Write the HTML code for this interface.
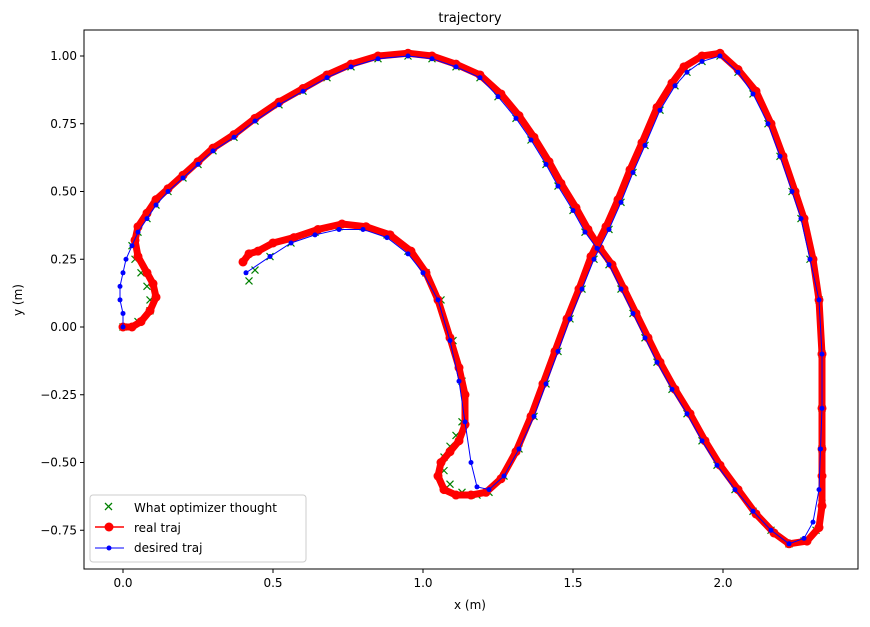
<!DOCTYPE html>
<html><head><meta charset="utf-8"><style>
body{margin:0;background:#fff;font-family:"Liberation Sans","DejaVu Sans",sans-serif}
svg text{font-family:"DejaVu Sans","Liberation Sans",sans-serif;fill:#000}
</style></head><body>
<svg id="chart" width="870" height="622" viewBox="0 0 870 622" xmlns="http://www.w3.org/2000/svg">
<rect width="870" height="622" fill="#fff"/>
<text x="470" y="22" text-anchor="middle" font-size="13">trajectory</text>
<g id="marks"></g>
<rect x="84" y="30" width="774" height="539" fill="none" stroke="#000" stroke-width="1"/>
<g id="axes"></g>
<text x="470" y="609" text-anchor="middle" font-size="12">x (m)</text>
<text x="22" y="300" text-anchor="middle" font-size="12" transform="rotate(-90 22 300)">y (m)</text>
<g>
<rect x="90" y="495" width="216" height="67" rx="3" fill="#fff" fill-opacity="0.85" stroke="#ccc"/>
<g>
<path d="M105,503 l7,7 M112,503 l-7,7" stroke="green" stroke-width="1.3"/>
<text x="134" y="512" font-size="12">What optimizer thought</text></g>
<g>
<line x1="95" y1="527" x2="124" y2="527" stroke="red" stroke-width="1.5"/><circle cx="109" cy="527" r="4.5" fill="red"/>
<text x="134" y="532" font-size="12">real traj</text></g>
<g>
<line x1="95" y1="548" x2="124" y2="548" stroke="blue" stroke-width="1"/><circle cx="109" cy="548" r="2.5" fill="blue"/>
<text x="134" y="552" font-size="12">desired traj</text></g>
</g>
</svg>
<script>
const desiredX=[0,0,-0.01,-0.01,0,0.01,0.03,0.05,0.08,0.11,0.15,0.2,0.25,0.3,0.37,0.44,0.52,0.6,0.68,0.76,0.85,0.95,
1.03,1.11,1.19,1.25,1.31,1.36,1.41,1.45,1.5,1.54,1.58,1.62,1.66,1.7,1.74,1.78,1.83,1.88,1.93,1.98,2.04,2.1,2.16,2.22,2.27,2.3,2.32,2.325,2.33,2.33,
2.32,2.29,2.26,2.23,2.19,2.15,2.1,2.05,1.99,1.93,1.88,1.84,1.79,1.74,1.7,1.66,1.62,1.57,1.53,1.49,1.45,1.41,1.37,1.32,1.27,1.22,1.18,1.16,1.14,1.12,1.09,1.05,1.0,0.95,0.88,0.8,0.72,0.64,0.56,0.49,0.41];
const desiredY=[0,0.05,0.1,0.15,0.2,0.25,0.3,0.35,0.4,0.45,0.5,0.55,0.6,0.65,0.7,0.76,0.82,0.87,0.92,0.96,0.99,1.0,
0.99,0.96,0.92,0.85,0.77,0.69,0.6,0.52,0.43,0.35,0.29,0.23,0.14,0.05,-0.04,-0.13,-0.23,-0.32,-0.42,-0.51,-0.6,-0.68,-0.75,-0.8,-0.78,-0.72,-0.6,-0.45,-0.3,-0.1,
0.1,0.25,0.4,0.5,0.63,0.75,0.86,0.94,1.0,0.98,0.94,0.89,0.8,0.67,0.57,0.46,0.36,0.25,0.14,0.03,-0.09,-0.21,-0.33,-0.45,-0.55,-0.6,-0.59,-0.5,-0.35,-0.2,-0.05,0.1,0.2,0.27,0.33,0.36,0.36,0.34,0.31,0.26,0.2];
const realX=[0,0.03,0.06,0.09,0.11,0.1,0.08,0.05,0.04,0.05,0.08,0.11,0.15,0.2,0.25,0.3,0.37,0.44,0.52,0.6,0.68,0.76,0.85,0.95,
1.03,1.11,1.19,1.26,1.32,1.37,1.42,1.46,1.51,1.55,1.59,1.63,1.67,1.71,1.75,1.79,1.84,1.89,1.94,1.99,2.05,2.11,2.17,2.22,2.28,2.32,2.33,2.33,2.33,2.33,2.33,
2.32,2.3,2.27,2.24,2.2,2.16,2.11,2.05,1.99,1.93,1.87,1.83,1.78,1.73,1.69,1.65,1.61,1.56,1.52,1.48,1.44,1.4,1.36,1.31,1.26,1.21,1.16,1.11,1.07,1.05,1.06,1.09,1.12,1.14,1.14,1.12,1.09,1.05,1.01,0.96,0.89,0.81,0.73,0.65,0.57,0.5,0.45,0.42,0.4];
const realY=[0,0,0.02,0.06,0.11,0.16,0.2,0.26,0.32,0.37,0.42,0.47,0.51,0.56,0.61,0.66,0.71,0.77,0.83,0.88,0.93,0.97,1.0,1.01,
1.0,0.97,0.93,0.86,0.78,0.7,0.61,0.53,0.44,0.36,0.29,0.23,0.14,0.05,-0.04,-0.13,-0.23,-0.32,-0.42,-0.51,-0.6,-0.69,-0.76,-0.8,-0.79,-0.74,-0.66,-0.55,-0.45,-0.3,-0.1,
0.1,0.25,0.4,0.5,0.63,0.75,0.87,0.95,1.01,1.0,0.96,0.9,0.81,0.68,0.58,0.47,0.37,0.26,0.14,0.03,-0.09,-0.21,-0.33,-0.46,-0.56,-0.61,-0.62,-0.62,-0.6,-0.55,-0.5,-0.46,-0.42,-0.36,-0.25,-0.15,-0.04,0.1,0.2,0.28,0.34,0.37,0.38,0.36,0.33,0.31,0.28,0.27,0.24];
const optX=[0,0.05,0.09,0.09,0.08,0.06,0.04,0.03,0.05,0.08,0.11,0.15,0.2,0.25,0.3,0.37,0.44,0.52,0.6,0.68,0.76,0.85,0.95,
1.03,1.11,1.19,1.25,1.31,1.36,1.41,1.45,1.5,1.54,1.58,1.62,1.66,1.7,1.74,1.78,1.83,1.88,1.93,1.98,2.04,2.1,2.16,2.22,2.27,2.31,2.33,2.33,2.33,2.33,
2.32,2.29,2.26,2.23,2.19,2.15,2.1,2.05,1.99,1.93,1.88,1.84,1.79,1.74,1.7,1.66,1.62,1.57,1.53,1.49,1.45,1.41,1.37,1.32,1.27,1.22,1.18,1.13,1.09,1.07,1.07,1.09,1.11,1.13,1.13,1.1,1.06,1.01,0.95,0.88,0.8,0.72,0.64,0.56,0.49,0.44,0.42];
const optY=[0,0.02,0.06,0.1,0.15,0.2,0.25,0.3,0.35,0.4,0.45,0.5,0.55,0.6,0.65,0.7,0.76,0.82,0.87,0.92,0.96,0.99,1.0,
0.99,0.96,0.92,0.85,0.77,0.69,0.6,0.52,0.43,0.35,0.29,0.23,0.14,0.05,-0.04,-0.13,-0.23,-0.32,-0.42,-0.51,-0.6,-0.68,-0.75,-0.8,-0.79,-0.75,-0.65,-0.45,-0.3,-0.1,
0.1,0.25,0.4,0.5,0.63,0.75,0.86,0.94,1.0,0.98,0.94,0.89,0.8,0.67,0.57,0.46,0.36,0.25,0.14,0.03,-0.09,-0.21,-0.33,-0.45,-0.55,-0.61,-0.62,-0.61,-0.58,-0.53,-0.48,-0.44,-0.4,-0.35,-0.2,-0.05,0.1,0.2,0.28,0.34,0.37,0.37,0.35,0.31,0.26,0.21,0.17];
const xTicks=[0,0.5,1,1.5,2];
const xTickLabels=["0.0","0.5","1.0","1.5","2.0"];
const yTicks=[1,0.75,0.5,0.25,0,-0.25,-0.5,-0.75];
const yTickLabels=["1.00","0.75","0.50","0.25","0.00","−0.25","−0.50","−0.75"];

const NS="http://www.w3.org/2000/svg";
function sx(v){return 123+v*300;}
function sy(v){return 327-v*271;}
function mk(tag,attrs,parent){const e=document.createElementNS(NS,tag);for(const k in attrs)e.setAttribute(k,attrs[k]);parent.appendChild(e);return e;}
const marks=document.getElementById('marks');
const axes=document.getElementById('axes');
function pts(X,Y){return X.map((x,i)=>sx(x)+","+sy(Y[i])).join(" ");}

const gOpt=mk('g',{},marks);


optX.forEach((x,i)=>{const cx=sx(x),cy=sy(optY[i]);
 const p=mk('path',{d:`M${cx-3.5},${cy-3.5}L${cx+3.5},${cy+3.5}M${cx+3.5},${cy-3.5}L${cx-3.5},${cy+3.5}`,stroke:'green','stroke-width':1.2},gOpt);
 
 });

const gReal=mk('g',{},marks);


const rl=mk('polyline',{points:pts(realX,realY),fill:'none',stroke:'red','stroke-width':7,'stroke-linejoin':'round','stroke-linecap':'round'},gReal);


realX.forEach((x,i)=>{const c=mk('circle',{cx:sx(x),cy:sy(realY[i]),r:4.5,fill:'red'},gReal);
 
 });

const gDes=mk('g',{},marks);


const dl=mk('polyline',{points:pts(desiredX,desiredY),fill:'none',stroke:'blue','stroke-width':1},gDes);


desiredX.forEach((x,i)=>{const c=mk('circle',{cx:sx(x),cy:sy(desiredY[i]),r:2.5,fill:'blue'},gDes);
 
 });

xTicks.forEach((v,i)=>{const x=sx(v);
 const l=mk('line',{x1:x,y1:569,x2:x,y2:573,stroke:'#000'},axes);
 
 
 const t=mk('text',{x:x,y:587,'text-anchor':'middle','font-size':12},axes);t.textContent=xTickLabels[i];
 
 });
yTicks.forEach((v,i)=>{const y=sy(v);
 const l=mk('line',{x1:80,y1:y,x2:84,y2:y,stroke:'#000'},axes);
 
 
 const t=mk('text',{x:77,y:y+4,'text-anchor':'end','font-size':12},axes);t.textContent=yTickLabels[i];
 
 });
</script>
</body></html>
